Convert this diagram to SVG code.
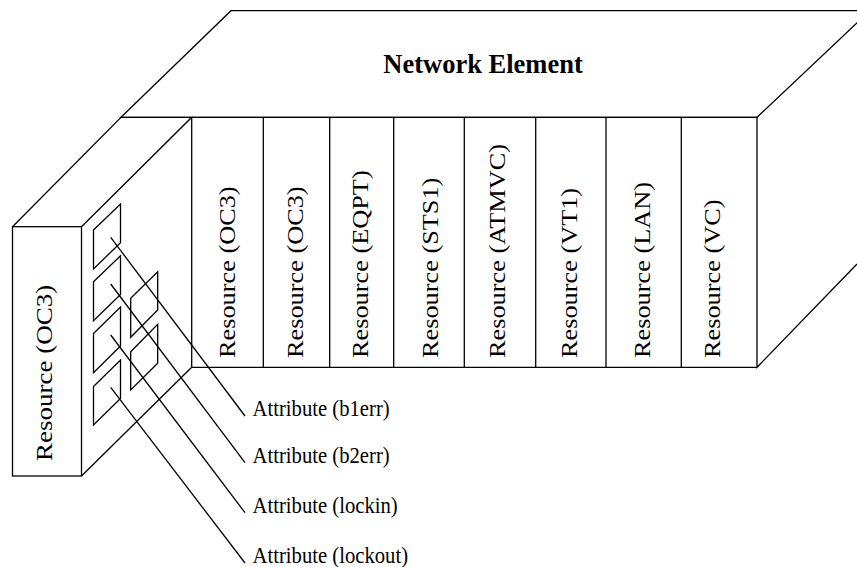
<svg xmlns="http://www.w3.org/2000/svg" width="857" height="567" viewBox="0 0 857 567">
<style>
.ln{fill:none;stroke:#000;stroke-width:1.3;stroke-linejoin:miter}
.res{font-family:"Liberation Serif","Times New Roman",serif;font-size:26.3px;fill:#000}
.attr{font-family:"Liberation Serif","Times New Roman",serif;font-size:23.5px;fill:#000}
.title{font-family:"Liberation Serif","Times New Roman",serif;font-size:26.5px;font-weight:bold;fill:#000}
</style>
<rect width="857" height="567" fill="#fff"/>
<g id="network-element">
<polygon class="ln" points="121,117.3 231,10.7 870,10.7 757,117.3"/>
<polyline class="ln" points="757,117.3 757,367.3 857,264"/>
<line class="ln" x1="191.7" y1="117.3" x2="757" y2="117.3"/>
<line class="ln" x1="191.7" y1="367.3" x2="757" y2="367.3"/>
<text class="title" x="483" y="72.7" text-anchor="middle">Network Element</text>
</g>
<g id="res-oc3-a"><line class="ln" x1="191.7" y1="117.3" x2="191.7" y2="367.3"/><text class="res" transform="translate(234.5,358) rotate(-90) scale(1,0.88)">Resource (OC3)</text></g>
<g id="res-oc3-b"><line class="ln" x1="263.3" y1="117.3" x2="263.3" y2="367.3"/><text class="res" transform="translate(302.5,358) rotate(-90) scale(1,0.88)">Resource (OC3)</text></g>
<g id="res-eqpt"><line class="ln" x1="329.7" y1="117.3" x2="329.7" y2="367.3"/><text class="res" transform="translate(368,358) rotate(-90) scale(1,0.88)">Resource (EQPT)</text></g>
<g id="res-sts1"><line class="ln" x1="393.7" y1="117.3" x2="393.7" y2="367.3"/><text class="res" transform="translate(438,358) rotate(-90) scale(1,0.88)">Resource (STS1)</text></g>
<g id="res-atmvc"><line class="ln" x1="464.3" y1="117.3" x2="464.3" y2="367.3"/><text class="res" transform="translate(505,358) rotate(-90) scale(1,0.88)">Resource (ATMVC)</text></g>
<g id="res-vt1"><line class="ln" x1="535.7" y1="117.3" x2="535.7" y2="367.3"/><text class="res" transform="translate(577,358) rotate(-90) scale(1,0.88)">Resource (VT1)</text></g>
<g id="res-lan"><line class="ln" x1="606" y1="117.3" x2="606" y2="367.3"/><text class="res" transform="translate(650,358) rotate(-90) scale(1,0.88)">Resource (LAN)</text></g>
<g id="res-vc"><line class="ln" x1="681.3" y1="117.3" x2="681.3" y2="367.3"/><text class="res" transform="translate(720,358) rotate(-90) scale(1,0.88)">Resource (VC)</text></g>
<g id="res-oc3-front">
<rect class="ln" x="12.5" y="226.7" width="69" height="249.3"/>
<polyline class="ln" points="12.5,226.7 121,117.3 191.7,117.3 81.5,226.7"/>
<polyline class="ln" points="81.5,476 191.7,367.3"/>
<text class="res" font-size="27" style="font-size:27px" transform="translate(51.5,461) rotate(-90) scale(1,0.88)">Resource (OC3)</text>
<polygon class="ln" points="93.5,230 120.5,204 120.5,242.7 93.5,269"/>
<polygon class="ln" points="93.5,281.7 120.5,255.7 120.5,294.4 93.5,320.7"/>
<polygon class="ln" points="93.5,333.5 120.5,307 120.5,346 93.5,372.7"/>
<polygon class="ln" points="93.5,386.5 120.5,360 120.5,398.5 93.5,425"/>
<polygon class="ln" points="130.7,298.3 157.7,271.7 157.7,310 130.7,337.3"/>
<polygon class="ln" points="130.7,351.7 157.7,324.3 157.7,363.3 130.7,390"/>
</g>
<g id="connectors">
<line class="ln" x1="110.7" y1="237.3" x2="245" y2="416"/>
<line class="ln" x1="110.7" y1="284" x2="245" y2="462.7"/>
<line class="ln" x1="110.7" y1="335" x2="245" y2="512.7"/>
<line class="ln" x1="110.7" y1="387.3" x2="245" y2="563"/>
</g>
<g id="attr-b1err"><text class="attr" transform="translate(252.5,416) scale(0.88,1)">Attribute (b1err)</text></g>
<g id="attr-b2err"><text class="attr" transform="translate(252.5,462.7) scale(0.88,1)">Attribute (b2err)</text></g>
<g id="attr-lockin"><text class="attr" transform="translate(252.5,512.7) scale(0.88,1)">Attribute (lockin)</text></g>
<g id="attr-lockout"><text class="attr" transform="translate(252.5,563) scale(0.88,1)">Attribute (lockout)</text></g>
</svg>
